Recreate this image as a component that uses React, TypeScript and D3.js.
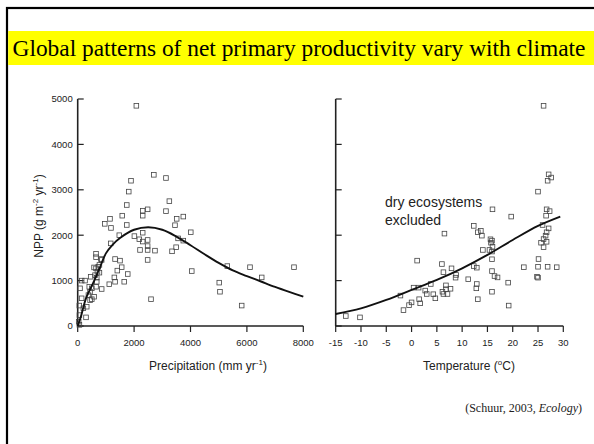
import React, { useEffect } from "react";
import * as d3 from "d3";

const titleText = "Global patterns of net primary productivity vary with climate";
const citation = "(Schuur, 2003, ";
const citationItalic = "Ecology";

const nppTicks = [0, 1000, 2000, 3000, 4000, 5000];
const precipTicks = [0, 2000, 4000, 6000, 8000];
const tempTicks = [-15, -10, -5, 0, 5, 10, 15, 20, 25, 30];

// [precipitation mm/yr, NPP g/m2/yr]
const precipitationPoints: [number, number][] = [
  [2080, 4850], [2700, 3330], [3130, 3260], [1890, 3200], [1810, 2960], [1740, 2665], [3250, 2750],
  [1580, 2430], [1740, 2225], [960, 2250], [1145, 2360], [1180, 2160], [2305, 2540], [2480, 2570],
  [2305, 2430], [3130, 2530], [3510, 2360], [3745, 2410], [3450, 2220], [1475, 2000], [1170, 1820],
  [2305, 2055], [2010, 1980], [2185, 1910], [2305, 1860], [2480, 1895], [2210, 1675], [2480, 1760],
  [2480, 1675], [2480, 1455], [2740, 1660], [3560, 1930], [3745, 1880], [3490, 1735], [3345, 1645],
  [4010, 2065], [4045, 1210], [2600, 590], [5020, 955], [5045, 755], [5305, 1320], [5815, 450],
  [6110, 1295], [6525, 1070], [7670, 1295], [1775, 1145], [1650, 975], [1500, 1440], [1560, 1295],
  [1405, 1220], [1325, 1475], [1300, 1070], [1325, 975], [1120, 920], [850, 815], [825, 1475],
  [730, 1305], [650, 1515], [650, 1590], [82, 830], [140, 1000], [260, 1000], [57, 450], [140, 610],
  [35, 95], [60, 25], [60, 240], [200, 390], [295, 190], [320, 425], [440, 570], [380, 680],
  [437, 755], [500, 830], [580, 645], [500, 590], [410, 865], [460, 1085], [615, 1120], [675, 1065],
  [700, 1195], [650, 1270], [580, 1290], [675, 975], [650, 865], [770, 1175], [850, 1455], [770, 1345],
];

// fitted curve NPP vs precipitation
const precipitationCurve: [number, number][] = [
  [0, 0], [100, 180], [300, 620], [550, 950], [800, 1310], [1000, 1600], [1250, 1800], [1500, 1940],
  [2000, 2120], [2500, 2175], [3000, 2120], [3500, 1970], [4000, 1780], [4500, 1580], [5000, 1390],
  [5500, 1225], [6000, 1100], [6500, 980], [7000, 860], [7500, 750], [8000, 645],
];

// [temperature °C, NPP g/m2/yr]
const temperaturePoints: [number, number][] = [
  [26.1, 4850], [27.1, 3340], [27.6, 3270], [26.9, 3200], [25, 2960], [16, 2570], [19.7, 2410],
  [26.7, 2570], [27.3, 2530], [26.6, 2430], [25.9, 2225], [27.1, 2150], [26.7, 2065], [26.5, 1990],
  [26.1, 1915], [26.7, 1855], [25.6, 1835], [26.1, 1735], [25.1, 1475], [25, 1305], [26.9, 1305],
  [28.7, 1295], [22.2, 1295], [24.8, 1085], [25, 1065], [19.2, 450], [19.1, 955], [12.3, 2205],
  [13.1, 2065], [13.7, 2095], [13.9, 1990], [14.1, 1675], [15.6, 1910], [15.9, 1880], [15.7, 1835],
  [16, 1745], [15.4, 1675], [15.9, 1640], [15.9, 1470], [15.9, 1210], [16.4, 1100], [17, 1070],
  [15.9, 755], [12.3, 1320], [12.9, 1285], [11.2, 1030], [12.9, 925], [12.8, 830], [13.1, 590],
  [6.5, 2035], [6, 1365], [6.3, 1185], [7.9, 1270], [8.8, 1125], [8.7, 1065], [1.1, 1440], [3.8, 925],
  [6.8, 895], [6.8, 810], [7.7, 820], [6.1, 755], [7.1, 705], [6.3, 705], [2.7, 780], [3, 705],
  [4.3, 700], [4.7, 610], [0.4, 845], [1.4, 845], [1.5, 590], [1.7, 500], [0, 520], [-0.5, 460],
  [-2.2, 670], [-1.6, 350], [-13, 220], [-10.2, 190],
];

// fitted curve NPP vs temperature
const temperatureCurve: [number, number][] = [
  [-15, 265], [-10, 390], [-5, 575], [0, 795], [5, 1015], [10, 1270], [15, 1565], [20, 1895],
  [25, 2205], [29.4, 2410],
];

const W = 594;
const H = 444;
const SANS = "'Liberation Sans', Arial, sans-serif";
const SERIF = "'Liberation Serif', 'Times New Roman', serif";

const yScale = d3.scaleLinear().domain([0, 5000]).range([326, 99]);
const xPrecip = d3.scaleLinear().domain([0, 8000]).range([77.7, 303.3]);
const xTemp = d3.scaleLinear().domain([-15, 30]).range([335.7, 563.3]);

function Panel({
  x,
  ticks,
  points,
  curve,
  showYLabels,
}: {
  x: d3.ScaleLinear<number, number>;
  ticks: number[];
  points: [number, number][];
  curve: [number, number][];
  showYLabels: boolean;
}) {
  const [x0, x1] = x.range();
  const y0 = yScale(0);
  const yTop = yScale(5000);
  const line = d3
    .line<[number, number]>()
    .x((d) => x(d[0]))
    .y((d) => yScale(d[1]))
    .curve(d3.curveCatmullRom.alpha(0.5));
  const s = 4.6;
  return (
    <g>
      {/* y axis */}
      <line x1={x0} x2={x0} y1={y0} y2={yTop} stroke="#222" strokeWidth={1.6} />
      {nppTicks.map((t) => (
        <g key={"y" + t}>
          <line x1={x0} x2={x0 + 6} y1={yScale(t)} y2={yScale(t)} stroke="#222" strokeWidth={1.2} />
          {showYLabels && (
            <text
              x={x0 - 5}
              y={yScale(t)}
              dy="0.35em"
              textAnchor="end"
              fontFamily={SANS}
              fontSize={9.5}
              fill="#222"
            >
              {t}
            </text>
          )}
        </g>
      ))}
      {/* x axis */}
      <line x1={x0} x2={x1} y1={y0} y2={y0} stroke="#222" strokeWidth={1.6} />
      {ticks.map((t) => (
        <g key={"x" + t}>
          <line x1={x(t)} x2={x(t)} y1={y0} y2={y0 + 6} stroke="#222" strokeWidth={1.2} />
          <text
            x={x(t)}
            y={343}
            dy="0.35em"
            textAnchor="middle"
            fontFamily={SANS}
            fontSize={9.5}
            fill="#222"
          >
            {t}
          </text>
        </g>
      ))}
      {points.map((p, i) => (
        <rect
          key={i}
          x={x(p[0]) - s / 2}
          y={yScale(p[1]) - s / 2}
          width={s}
          height={s}
          fill="none"
          stroke="#444"
          strokeWidth={0.8}
        />
      ))}
      <path d={line(curve) || ""} fill="none" stroke="#111" strokeWidth={1.9} />
    </g>
  );
}

export default function App() {
  useEffect(() => {
    document.body.style.margin = "0";
  }, []);
  return (
    <svg
      width={W}
      height={H}
      viewBox={`0 0 ${W} ${H}`}
      style={{ position: "absolute", left: 0, top: 0, display: "block", background: "#fff" }}
    >
      <rect x={0} y={0} width={W} height={H} fill="#fff" />
      <rect x={7} y={8} width={W + 20} height={H + 20} fill="none" stroke="#000" strokeWidth={2.2} />
      <rect x={8.2} y={31} width={W} height={34} fill="#ffff00" />
      <text x={12.5} y={55.5} fontFamily={SERIF} fontSize={23.4} fill="#000">
        {titleText}
      </text>

      <Panel x={xPrecip} ticks={precipTicks} points={precipitationPoints} curve={precipitationCurve} showYLabels />
      <Panel x={xTemp} ticks={tempTicks} points={temperaturePoints} curve={temperatureCurve} showYLabels={false} />

      {/* y label */}
      <text
        transform="translate(43,216) rotate(-90)"
        textAnchor="middle"
        fontFamily={SANS}
        fontSize={12}
        fill="#222"
      >
        NPP (g m<tspan fontSize={8} dy={-5}>-2</tspan>
        <tspan dy={5}> yr</tspan>
        <tspan fontSize={8} dy={-5}>-1</tspan>
        <tspan dy={5}>)</tspan>
      </text>

      {/* x labels */}
      <text x={208} y={370} textAnchor="middle" fontFamily={SANS} fontSize={12} fill="#222">
        Precipitation (mm  yr<tspan fontSize={8} dy={-5}>-1</tspan>
        <tspan dy={5}>)</tspan>
      </text>
      <text x={469} y={370} textAnchor="middle" fontFamily={SANS} fontSize={12} fill="#222">
        Temperature (<tspan fontSize={8} dy={-5}>o</tspan>
        <tspan dy={5}>C)</tspan>
      </text>

      <text fontFamily={SANS} fontSize={14} fill="#222">
        <tspan x={385} y={207}>dry ecosystems</tspan>
        <tspan x={385} y={224.5}>excluded</tspan>
      </text>

      <text x={582} y={412} textAnchor="end" fontFamily={SERIF} fontSize={12} fill="#222">
        {citation}
        <tspan fontStyle="italic">{citationItalic}</tspan>)
      </text>
    </svg>
  );
}
